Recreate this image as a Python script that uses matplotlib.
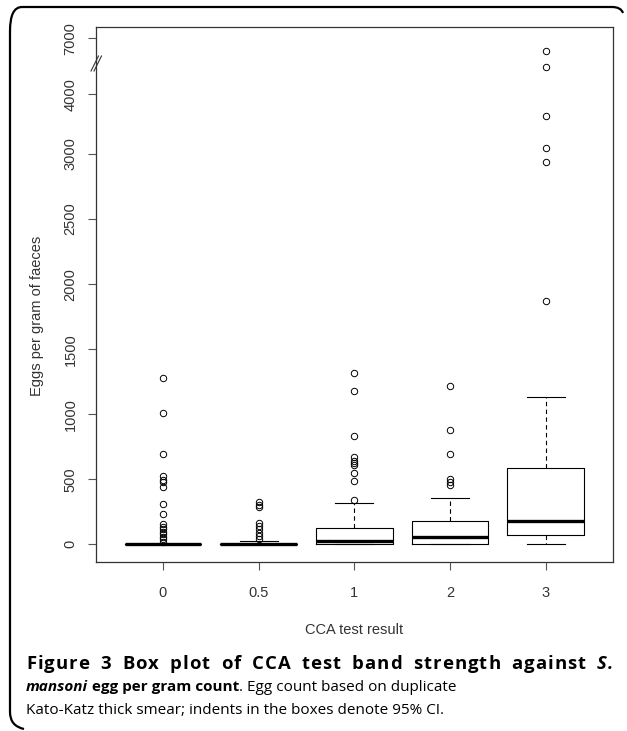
import numpy as np
import matplotlib
matplotlib.use("Agg")
import matplotlib.pyplot as plt
from matplotlib.lines import Line2D
from matplotlib.path import Path
from matplotlib.patches import PathPatch

# ---------------- data ----------------
categories = ["0", "0.5", "1", "2", "3"]
q1 = [0, 0, 3, 0, 71]
medians = [0, 0, 23, 56, 178]
q3 = [0, 0, 127, 176, 586]
whisker_lo = [0, 0, 0, 0, 0]
whisker_hi = [0, 23, 321, 357, 1135]
outliers_0 = [20, 38, 58, 77, 97, 115, 135, 153, 232, 308, 438, 479, 492, 525, 691, 1012, 1278]
outliers_05 = [38, 64, 89, 115, 140, 165, 288, 300, 325]
outliers_1 = [337, 484, 551, 612, 624, 640, 668, 834, 1175, 1313]
outliers_2 = [459, 479, 500, 693, 880, 1216]
outliers_3 = [1870, 2940, 3095, 3640, 5450, 6300]
outliers = [outliers_0, outliers_05, outliers_1, outliers_2, outliers_3]
ytick_values = [0, 500, 1000, 1500, 2000, 2500, 3000, 4000, 7000]

# broken / compressed y axis: data breakpoints -> display units
scale_data = [-1000, 0, 3000, 4000, 7000, 10000]
scale_disp = [-130.7, 0, 390.3, 450, 506, 562]

def fwd(v):
    return np.interp(v, scale_data, scale_disp)

def inv(v):
    return np.interp(v, scale_disp, scale_data)

W, H = 627, 731
fig = plt.figure(figsize=(W / 100, H / 100), dpi=100)
ax = fig.add_axes([96 / W, 1 - 561.7 / H, (612.7 - 96) / W, (561.7 - 26.7) / H])
ax.set_yscale("function", functions=(fwd, inv))

stats = []
for i, c in enumerate(categories):
    stats.append(dict(label=c, q1=q1[i], med=medians[i], q3=q3[i],
                      whislo=whisker_lo[i], whishi=whisker_hi[i], fliers=outliers[i]))

ax.bxp(stats, positions=range(1, len(categories) + 1), widths=0.8, capwidths=0.4,
       boxprops=dict(color="black", linewidth=0.8),
       medianprops=dict(color="black", linewidth=2.4, solid_capstyle="butt"),
       whiskerprops=dict(color="black", linewidth=0.8, linestyle=(0, (4, 3))),
       capprops=dict(color="black", linewidth=0.8),
       flierprops=dict(marker="o", markerfacecolor="none", markeredgecolor="black",
                       markersize=4.6, markeredgewidth=0.7, linestyle="none"))

R_FONT = "Liberation Sans"
R_SIZE = 10.5
ax.set_xlim(0.3, 5.7)
ax.set_ylim(-133, 7621)
ax.set_yticks(ytick_values)
ax.set_yticklabels([str(v) for v in ytick_values], rotation=90, va="center",
                   fontsize=R_SIZE, color="#333333", family=R_FONT)
ax.set_xticks(range(1, 6))
ax.set_xticklabels(categories, fontsize=R_SIZE, color="#333333", family=R_FONT)
ax.yaxis.set_minor_locator(matplotlib.ticker.NullLocator())
ax.tick_params(axis="both", length=5.8, width=0.8, color="#555555")
ax.tick_params(axis="y", pad=7.5)
ax.tick_params(axis="x", pad=11.5)
for s in ax.spines.values():
    s.set_linewidth(0.9)
    s.set_color("#333333")

# axis-break marks
tr = fig.transFigure
def fp(x, y):
    return (x / W, 1 - y / H)
for dx in (0, 3):
    x0, y0 = fp(91 + dx, 71)
    x1, y1 = fp(98.5 + dx, 56)
    fig.add_artist(Line2D([x0, x1], [y0, y1], transform=tr, color="#333333", lw=0.8))

fig.text(*fp(354, 630), "CCA test result", ha="center", va="center",
         fontsize=R_SIZE, color="#333333", family=R_FONT)
fig.text(*fp(37, 316), "Eggs per gram of faeces", ha="center", va="center", rotation=90,
         fontsize=R_SIZE, color="#333333", family=R_FONT)

# outer rounded frame (left / top)
r = 12
verts = [fp(24, 729), fp(10, 726), fp(10, 712), fp(10, 19 + r),
         fp(10, 7), fp(10 + r, 7), fp(612, 7), fp(621, 7), fp(623, 13)]
codes = [Path.MOVETO, Path.CURVE3, Path.CURVE3, Path.LINETO,
         Path.CURVE3, Path.CURVE3, Path.LINETO, Path.CURVE3, Path.CURVE3]
fig.add_artist(PathPatch(Path(verts, codes), transform=tr, fill=False, lw=1.6,
                         edgecolor="black"))

# caption
cap_family = "Open Sans"
cap_size = 11.0
renderer = fig.canvas.get_renderer()

def width(t):
    return t.get_window_extent(renderer).width

X_LEFT, X_RIGHT = 26, 613
# line 1: justified with letter spacing
words1 = [("Figure", "normal"), ("3", "normal"), ("Box", "normal"), ("plot", "normal"),
          ("of", "normal"), ("CCA", "normal"), ("test", "normal"), ("band", "normal"),
          ("strength", "normal"), ("against", "normal"), ("S.", "italic")]
size1 = 13.3
word_gap = 11.0
y1 = fp(0, 669)[1]
char_objs = []
extra_slots = 0
for w, st in words1:
    row = []
    for ch in w:
        t = fig.text(0, y1, ch, fontsize=size1, fontweight="bold", fontstyle=st,
                     family=cap_family, va="baseline", ha="left")
        row.append((t, width(t)))
    char_objs.append(row)
    extra_slots += len(w) - 1
natural = sum(wd for row in char_objs for _, wd in row)
track = (X_RIGHT - X_LEFT - natural - word_gap * (len(words1) - 1)) / extra_slots
x = X_LEFT
for row in char_objs:
    for k, (t, wd) in enumerate(row):
        t.set_x(x / W)
        x += wd + (track if k < len(row) - 1 else 0)
    x += word_gap

def chain(parts, x0, y):
    x = x0
    for s, fw, st in parts:
        t = fig.text(x / W, fp(0, y)[1], s, fontsize=cap_size, fontweight=fw, fontstyle=st,
                     family=cap_family, va="baseline", ha="left")
        x += width(t)

chain([("mansoni", "bold", "italic"), (" egg per gram count", "bold", "normal"),
       (". Egg count based on duplicate", "normal", "normal")], X_LEFT, 691)
chain([("Kato-Katz thick smear; indents in the boxes denote 95% CI.", "normal", "normal")],
      X_LEFT, 714)

fig.savefig("out.png", dpi=100)
